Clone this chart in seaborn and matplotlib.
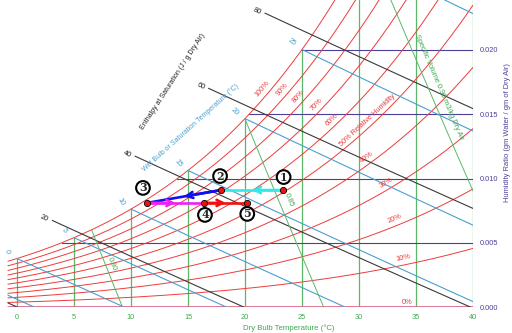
import numpy as np
import pandas as pd
import seaborn as sb
import matplotlib.pyplot as plt

# chart levels
rh_levels = [0.1, 0.2, 0.3, 0.4, 0.5, 0.6, 0.7, 0.8, 0.9, 1.0]
rh_labels = ["10%", "20%", "30%", "40%", "50% Relative Humidity", "60%", "70%", "80%", "90%", "100%"]
rh_label_T = [34.0, 33.4, 32.7, 31.0, 31.1, 28.0, 26.7, 25.1, 23.7, 22.0]
wb_levels = [-5, 0, 5, 10, 15, 20, 25, 30]
h_levels = [0, 20, 40, 60, 80]
h_start_T = [-0.8, 3.1, 10.35, 16.8, 21.75]
v_levels = [0.80, 0.85, 0.90]
v_labels = ["0.80", "0.85", "Specific Volume 0.90 m3/kg Dry Air"]
v_label_w = [0.0033, 0.0083, 0.0171]
v_label_dx = [6, 10, 11]
db_ticks = [0, 5, 10, 15, 20, 25, 30, 35, 40]
w_ticks = [0.000, 0.005, 0.010, 0.015, 0.020]

# process states
states = ["1", "2", "3", "4", "5"]
state_T = [23.3, 17.9, 11.4, 16.4, 20.2]
state_w = [0.0091, 0.0091, 0.0081, 0.0081, 0.0081]
state_off = [(1, 13), (-1, 14), (-4, 15), (1, -12), (0, -11)]
steps = [("1", "2", "#33e8ea"), ("2", "3", "#1010f0"),
         ("3", "4", "#f020f0"), ("4", "5", "#f01010")]

RED = "#ee3b3b"
GREEN = "#5cb868"
WBLUE = "#4a9fd0"
BLACK = "#3a3a3a"
PURPLE = "#4b3f98"
PINK = "#dc6a8a"
P = 101.325
TMIN, TMAX = -0.8, 40.0
WTOP = 307 / 64.25 * 0.005


def psat(T):
    return 0.61094 * np.exp(17.625 * T / (T + 243.04))


def w_rh(T, rh):
    pv = rh * psat(T)
    return 0.622 * pv / (P - pv)


def w_wb(T, twb):
    ws = w_rh(twb, 1.0)
    return ((2501 - 2.326 * twb) * ws - 1.006 * (T - twb)) / (2501 + 1.86 * T - 4.186 * twb)


def w_h(T, h):
    return (h - 1.006 * T) / (2501 + 1.86 * T)


def w_v(T, v):
    return (v * P / (0.287042 * (T + 273.15)) - 1) / 1.6078


def t_sat(f):
    lo, hi = -20.0, 60.0
    for _ in range(60):
        mid = (lo + hi) / 2
        if f(mid) - w_rh(mid, 1.0) > 0:
            lo = mid
        else:
            hi = mid
    return lo


sb.set_theme(style="white")
plt.rcParams["font.family"] = ["Liberation Sans", "DejaVu Sans"]

fig = plt.figure(figsize=(5.12, 3.33), dpi=100, facecolor="w")
ax = fig.add_axes([0, 26 / 333, 473 / 512, 307 / 333])
ax.set_xlim(-17 / 11.4, 40)
ax.set_ylim(0, WTOP)
fig.canvas.draw()


def angle(f, T, dT=0.05):
    p1 = ax.transData.transform((T, f(T)))
    p2 = ax.transData.transform((T + dT, f(T + dT)))
    return np.degrees(np.arctan2(p2[1] - p1[1], p2[0] - p1[0]))


def curve(Ts, ws, color, lw, key):
    df = pd.DataFrame({"T": Ts, "w": ws, "k": key})
    sb.lineplot(data=df, x="T", y="w", units="k", estimator=None, sort=False,
                color=color, lw=lw, ax=ax, legend=False)


# vertical dry bulb lines
for t in db_ticks:
    curve([t, t], [0, min(w_rh(t, 1.0), WTOP)], GREEN, 0.9, t)

# horizontal humidity ratio lines
for w in w_ticks[1:]:
    ts = t_sat(lambda T: w + 0 * T)
    curve([ts, TMAX], [w, w], PURPLE, 0.8, w)

# relative humidity curves
Tg = np.linspace(TMIN, TMAX, 300)
for rh in rh_levels:
    curve(Tg, w_rh(Tg, rh), RED, 0.7, rh)
curve([TMIN, TMAX], [0, 0], PINK, 2.0, 0)

# wet bulb lines
for twb in wb_levels:
    t0 = twb + (2501 - 2.326 * twb) * w_rh(twb, 1.0) / 1.006
    Ts = np.linspace(max(twb, TMIN), min(t0, TMAX), 60)
    curve(Ts, w_wb(Ts, twb), WBLUE, 0.8, twb)

# enthalpy lines
for h, ts in zip(h_levels, h_start_T):
    Ts = np.linspace(ts, min(h / 1.006, TMAX), 60)
    curve(Ts, w_h(Ts, h), BLACK, 0.8, h)

# specific volume lines
for v in v_levels:
    ts = t_sat(lambda T: w_v(T, v))
    Ts = np.linspace(ts, min(v * P / 0.287042 - 273.15, TMAX), 60)
    curve(Ts, w_v(Ts, v), GREEN, 0.7, v)

# labels
fs = 5.3
for rh, lab, t in zip(rh_levels, rh_labels, rh_label_T):
    f = lambda T: w_rh(T, rh)
    a = angle(f, t)
    d = 6.5
    ax.annotate(lab, (t, f(t)), xytext=(-d * np.sin(np.radians(a)), d * np.cos(np.radians(a))),
                textcoords="offset pixels", rotation=a, color=RED, fontsize=fs,
                ha="center", va="center", rotation_mode="anchor")
ax.annotate("0%", (34.2, 0), xytext=(0, 5), textcoords="offset pixels",
            color=RED, fontsize=fs, ha="center", va="center")

for twb in wb_levels[1:-1]:
    a = angle(lambda T: w_rh(T, 1.0), twb) - 90
    ax.annotate(str(twb), (twb, w_rh(twb, 1.0)), xytext=(-10, 7), textcoords="offset pixels",
                rotation=a, color=WBLUE, fontsize=fs, ha="center", va="center")

for h, ts in zip(h_levels[1:], h_start_T[1:]):
    a = angle(lambda T: w_h(T, h), ts)
    ax.annotate(str(h), (ts, w_h(ts, h)), xytext=(-8, 2), textcoords="offset pixels",
                rotation=a, color="#222222", fontsize=fs, ha="center", va="center")

for v, lab, wl, dx in zip(v_levels, v_labels, v_label_w, v_label_dx):
    tl = v * P / (0.287042 * (1 + 1.6078 * wl)) - 273.15
    a = angle(lambda T: w_v(T, v), tl)
    ax.annotate(lab, (tl, wl), xytext=(dx, 0), textcoords="offset pixels",
                rotation=a + 180 if a < -90 else a, color="#3fa84e", fontsize=fs,
                ha="center", va="center")

ax.text(13.7, 0.01751, "Enthalpy at Saturation (J / g Dry Air)", rotation=57,
        color="#222222", fontsize=5.0, ha="center", va="center")
ax.text(15.26, 0.01393, "Wet Bulb or Saturation Temperature (\u00b0C)", rotation=42,
        color=WBLUE, fontsize=5.0, ha="center", va="center")

# process
oData = pd.DataFrame({"state": states, "T": state_T, "w": state_w}).set_index("state")
for a_, b_, c in steps:
    p0 = oData.loc[a_]
    p1 = oData.loc[b_]
    curve([p0["T"], p1["T"]], [p0["w"], p1["w"]], c, 1.9, a_)
    mid = ((p0["T"] + p1["T"]) / 2, (p0["w"] + p1["w"]) / 2)
    ax.annotate("", xy=mid, xytext=(p0["T"], p0["w"]),
                arrowprops=dict(arrowstyle="->", color=c, lw=1.9, mutation_scale=11,
                                shrinkA=0, shrinkB=0))
sb.scatterplot(data=oData.reset_index(), x="T", y="w", color="#ee1111", edgecolor="black",
               linewidth=0.6, s=20, zorder=5, ax=ax, legend=False)
for s, t, w, off in zip(states, state_T, state_w, state_off):
    ax.annotate(s, (t, w), xytext=off, textcoords="offset pixels", fontsize=8,
                fontweight="bold", family="DejaVu Serif", ha="center", va="center",
                bbox=dict(boxstyle="circle,pad=0.12", fc="white", ec="black", lw=1.5))

# axes
ax.set_xticks(db_ticks)
ax.set_yticks(w_ticks)
ax.set_yticklabels(["%.3f" % w for w in w_ticks])
ax.yaxis.tick_right()
ax.tick_params(axis="x", length=0, pad=5, labelsize=fs, labelcolor="#3fa84e")
ax.tick_params(axis="y", length=0, pad=5, labelsize=fs, labelcolor=PURPLE)
ax.set_xlabel("Dry Bulb Temperature (\u00b0C)", fontsize=5.6, color="#3fa84e")
ax.set_ylabel("Humidity Ratio (gm Water / gm of Dry Air)", fontsize=5.4, color=PURPLE)
ax.yaxis.set_label_position("right")
ax.yaxis.set_label_coords(1.066, 0.567)
ax.xaxis.set_label_coords(289 / 473, -17 / 307)
for sp in ax.spines.values():
    sp.set_visible(False)

fig.savefig("out.png", dpi=100)
